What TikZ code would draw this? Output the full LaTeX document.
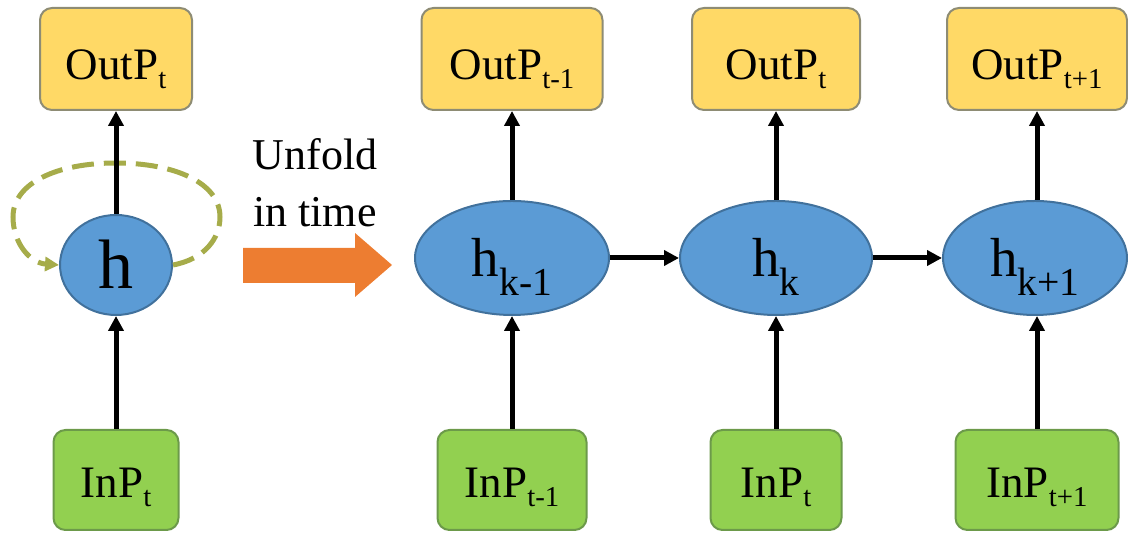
\documentclass[tikz,border=0pt]{standalone}
\usepackage{fontspec}
\setmainfont{LiberationSerif}[Extension=.ttf, UprightFont=*-Regular, BoldFont=*-Bold]
\usetikzlibrary{arrows.meta, positioning, shapes.geometric}
\definecolor{outfill}{HTML}{FFD966}
\definecolor{boxedge}{HTML}{8E8C74}
\definecolor{infill}{HTML}{92D050}
\definecolor{inedge}{HTML}{6C9A4A}
\definecolor{hfill}{HTML}{5B9BD5}
\definecolor{hedge}{HTML}{41719C}
\definecolor{unfoldc}{HTML}{ED7D31}
\definecolor{loopc}{HTML}{A6AC4A}
\newcommand{\boxsub}[1]{\raisebox{-0.2em}{\fontsize{0.64em}{0.64em}\selectfont #1}}
\newcommand{\hsub}[1]{\raisebox{-0.34em}{\fontsize{0.72em}{0.72em}\selectfont #1}}

\begin{document}
\begin{tikzpicture}[
                x=0.5pt, y=0.5pt,
                outbox/.style = {draw=boxedge, fill=outfill, line width=1pt, rounded corners=6pt,
                                 minimum height=51pt, inner sep=0pt, text height=21pt, text depth=0pt,
                                 font=\fontsize{22.5pt}{27pt}\selectfont},
                inbox/.style = {draw=inedge, fill=infill, line width=1pt, rounded corners=6pt,
                                minimum height=50pt, inner sep=0pt, text height=18pt, text depth=0pt,
                                font=\fontsize{22.5pt}{27pt}\selectfont},
                state/.style = {ellipse, draw=hedge, fill=hfill, line width=1pt, inner sep=0pt,
                                minimum height=57pt, text height=19pt, text depth=0pt,
                                font=\fontsize{27.5pt}{33pt}\selectfont},
                arrow/.style = {-{Triangle[length=7.5pt, width=7.5pt]}, line width=2.5pt},
                recur/.style = {-{Triangle[length=7pt, width=7pt]}, draw=loopc, line width=2.5pt,
                                dash pattern=on 11pt off 5pt}
              ]
              \useasboundingbox (0,0) rectangle (1128,533);
              % Folded network
              \node[outbox, minimum width=76pt] (outL) at (116,474) {OutP\boxsub{t}};
              \node[state, minimum width=56pt, minimum height=50pt, text height=24pt,
                    font=\fontsize{35pt}{40pt}\selectfont] (hL) at (116,268) {h};
              \node[inbox, minimum width=62.5pt] (inL) at (116,53) {InP\boxsub{t}};
              % Unfold in time
              \node[align=center, anchor=base, font=\fontsize{22pt}{28.5pt}\selectfont]
                    (unfold) at (315,306) {Unfold\\in time};
              \fill[unfoldc] (243,250) -- (355,250) -- (355,236) -- (392,268)
                             -- (355,300) -- (355,285) -- (243,285) -- cycle;
              % Unfolded states
              \node[state, minimum width=97pt] (h1) at (512,275) {h\hsub{k-1}};
              \node[state, minimum width=96pt] (h2) at (776,275) {h\hsub{k}};
              \node[state, minimum width=92pt] (h3) at (1035,275) {h\hsub{k+1}};
              \node[outbox, minimum width=90.5pt] (out1) at (512,474) {OutP\boxsub{t-1}};
              \node[outbox, minimum width=84pt] (out2) at (776,474) {OutP\boxsub{t}};
              \node[outbox, minimum width=90pt] (out3) at (1037,474) {OutP\boxsub{t+1}};
              \node[inbox, minimum width=74.5pt] (in1) at (512,53) {InP\boxsub{t-1}};
              \node[inbox, minimum width=65.5pt] (in2) at (776,53) {InP\boxsub{t}};
              \node[inbox, minimum width=81.5pt] (in3) at (1037,53) {InP\boxsub{t+1}};
              % Connections
              \draw[recur] (hL.east) .. controls (205,274) and (220,295) .. (220,316)
                           .. controls (220,350) and (175,370) .. (116,370)
                           .. controls (57,370) and (13,350) .. (13,316)
                           .. controls (13,290) and (30,270) .. (hL.west);
              \draw[arrow] (hL) -- (outL);
              \draw[arrow] (inL) -- (hL);
              \draw[arrow] (h1) -- (out1);
              \draw[arrow] (h2) -- (out2);
              \draw[arrow] (h3.north -| out3) -- (out3);
              \draw[arrow] (in1) -- (h1);
              \draw[arrow] (in2) -- (h2);
              \draw[arrow] (in3) -- (in3 |- h3.south);
              \draw[arrow] (h1) -- (h2);
              \draw[arrow] (h2) -- (h3);
            \end{tikzpicture}
\end{document}
